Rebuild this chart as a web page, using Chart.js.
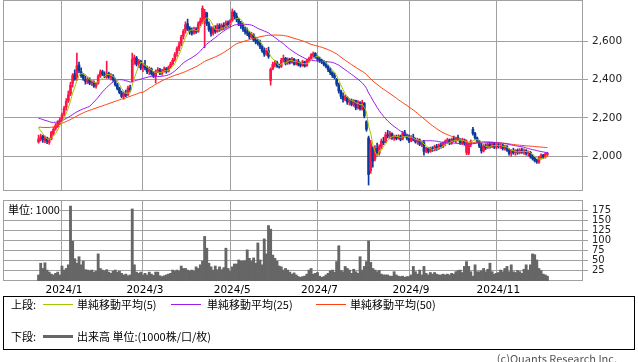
<!DOCTYPE html>
<html><head><meta charset="utf-8">
<script src="https://cdn.jsdelivr.net/npm/chart.js@4.4.1/dist/chart.umd.min.js"></script>
<style>
html,body{margin:0;padding:0;background:#fff;width:638px;height:362px;overflow:hidden;position:relative;}
canvas{position:absolute;left:0;}
#price{top:0;}
#vol{top:195px;}
.t{position:absolute;font-family:"Noto Sans CJK JP","Noto Sans",sans-serif;font-size:11px;line-height:14px;color:#000;white-space:nowrap;}
#box{position:absolute;left:3px;top:296px;width:630px;height:52px;border:1px solid #000;}
.ln{position:absolute;height:1px;width:30px;}
</style></head><body>
<canvas id="price" width="638" height="191"></canvas>
<canvas id="vol" width="638" height="102"></canvas>
<div class="t" style="left:4px;top:202px;background:#fff;padding:0 0 1px 4px;">単位: 1000</div>
<div id="box"></div>
<div class="t" style="left:11px;top:297px;">上段:</div>
<div class="ln" style="left:43px;top:304px;background:#a0c800;"></div>
<div class="t" style="left:77px;top:297px;">単純移動平均(5)</div>
<div class="ln" style="left:171px;top:304px;background:#9a1cf0;"></div>
<div class="t" style="left:207px;top:297px;">単純移動平均(25)</div>
<div class="ln" style="left:316px;top:304px;background:#ff4010;"></div>
<div class="t" style="left:350px;top:297px;">単純移動平均(50)</div>
<div class="t" style="left:11px;top:329px;">下段:</div>
<div class="ln" style="left:43px;top:335px;height:3px;background:#666;"></div>
<div class="t" style="left:77px;top:329px;">出来高 単位:(1000株/口/枚)</div>
<div class="t" style="right:21px;top:351px;color:#555;">(c)Quants Research Inc.</div>
<script>
// ---- data (one entry per trading day, index 0 = mid Dec 2023) ----
const monthIdx = [11, 49, 90, 131, 174, 215];
const monthLabels = ['2024/1', '2024/3', '2024/5', '2024/7', '2024/9', '2024/11'];
const priceTicks = [2000, 2200, 2400, 2600];
const volTicks = [25, 50, 75, 100, 125, 150, 175];

const opens = [
2075,2092,2105,2080,2095,2072,2090,2120,2145,2155,
2180,2195,2220,2255,2290,2325,2380,2430,2400,2475,
2440,2425,2400,2385,2400,2382,2385,2365,2380,2418,
2440,2425,2412,2430,2412,2418,2398,2372,2352,2330,
2312,2325,2320,2355,2390,2505,2512,2480,2495,2460,
2472,2458,2440,2455,2430,2415,2442,2450,2432,2445,
2455,2442,2465,2482,2505,2535,2562,2585,2625,2655,
2690,2665,2650,2640,2662,2650,2692,2700,2720,2745,
2690,2665,2640,2665,2650,2680,2660,2680,2672,2695,
2685,2708,2750,2730,2712,2690,2680,2660,2648,2640,
2620,2632,2605,2595,2590,2570,2550,2532,2550,2395,
2455,2480,2488,2470,2468,2502,2510,2485,2505,2490,
2505,2480,2495,2478,2472,2490,2472,2500,2508,2525,
2535,2518,2505,2498,2490,2478,2468,2450,2435,2420,
2400,2370,2340,2312,2295,2305,2282,2290,2268,2290,
2252,2280,2245,2275,2180,2095,1925,2045,1985,2040,
2015,2050,2078,2075,2112,2105,2118,2095,2100,2092,
2105,2090,2122,2108,2095,2080,2100,2088,2075,2085,
2062,2070,2028,2040,2025,2042,2032,2050,2040,2058,
2050,2068,2078,2085,2068,2090,2082,2098,2085,2070,
2085,2020,2015,2062,2140,2118,2095,2078,2050,2028,
2055,2045,2062,2050,2065,2048,2060,2050,2058,2040,
2050,2032,2015,2028,2018,2030,2020,2032,2022,2030,
2015,2020,1998,1990,1978,1968,1992,2005,1995,2010];
const highs = [
2110,2115,2110,2105,2100,2095,2130,2150,2170,2185,
2200,2225,2260,2300,2340,2385,2430,2450,2537,2490,
2460,2430,2418,2412,2408,2395,2392,2385,2425,2450,
2448,2440,2495,2438,2430,2425,2407,2380,2360,2340,
2335,2345,2365,2370,2537,2527,2520,2505,2500,2485,
2500,2470,2465,2460,2440,2450,2462,2458,2452,2465,
2462,2470,2490,2510,2540,2570,2595,2630,2660,2700,
2714,2675,2668,2672,2670,2700,2720,2783,2765,2750,
2700,2675,2675,2680,2690,2690,2690,2695,2705,2705,
2712,2767,2758,2745,2720,2702,2695,2672,2668,2650,
2645,2638,2620,2610,2605,2580,2565,2562,2568,2460,
2490,2500,2495,2480,2510,2527,2515,2512,2510,2515,
2510,2502,2505,2490,2500,2495,2505,2516,2535,2543,
2540,2522,2516,2505,2500,2490,2475,2459,2440,2433,
2405,2381,2344,2330,2320,2310,2300,2298,2295,2292,
2290,2285,2292,2280,2185,2105,2083,2050,2055,2068,
2060,2090,2099,2125,2135,2130,2122,2110,2110,2112,
2110,2130,2135,2115,2112,2108,2115,2095,2094,2090,
2078,2083,2047,2045,2048,2050,2058,2062,2065,2068,
2075,2085,2094,2090,2095,2105,2100,2110,2092,2094,
2090,2085,2068,2085,2151,2125,2100,2083,2070,2062,
2065,2070,2073,2072,2070,2068,2068,2066,2062,2058,
2055,2040,2035,2042,2035,2038,2040,2042,2038,2035,
2028,2025,2008,1995,1985,1998,2012,2010,2018,2021];
const lows = [
2068,2080,2072,2070,2065,2062,2085,2110,2135,2150,
2165,2185,2210,2240,2280,2315,2360,2395,2395,2435,
2410,2395,2375,2378,2372,2368,2358,2355,2375,2410,
2420,2408,2405,2405,2398,2390,2365,2345,2325,2305,
2297,2310,2315,2335,2386,2478,2470,2462,2450,2440,
2450,2430,2425,2422,2410,2381,2435,2425,2422,2438,
2432,2438,2458,2475,2495,2520,2550,2575,2610,2640,
2655,2635,2630,2635,2640,2645,2680,2690,2565,2680,
2650,2625,2630,2640,2645,2650,2655,2660,2665,2672,
2675,2700,2715,2700,2680,2665,2650,2635,2628,2612,
2615,2598,2585,2578,2560,2540,2520,2525,2510,2370,
2450,2465,2462,2458,2462,2490,2475,2478,2480,2485,
2474,2475,2470,2464,2468,2464,2468,2490,2505,2515,
2510,2495,2488,2482,2470,2460,2440,2425,2410,2402,
2365,2328,2300,2282,2288,2270,2266,2262,2260,2242,
2245,2240,2240,2200,2130,1850,1911,1943,1975,2000,
2005,2040,2060,2070,2095,2090,2088,2083,2085,2088,
2080,2085,2100,2085,2070,2075,2080,2068,2062,2055,
2050,2005,2018,2016,2020,2025,2028,2030,2035,2042,
2045,2055,2065,2060,2062,2075,2070,2080,2062,2060,
2057,2008,2008,2050,2110,2088,2070,2045,2016,2022,
2035,2040,2042,2045,2040,2038,2042,2040,2032,2032,
2025,2005,2000,2010,2005,2010,2012,2015,2010,2005,
2000,1990,1980,1970,1963,1963,1985,1988,1990,2000];
const closes = [
2090,2100,2085,2095,2078,2085,2125,2140,2160,2175,
2190,2215,2250,2285,2320,2370,2420,2400,2470,2445,
2420,2405,2390,2402,2380,2388,2365,2378,2415,2440,
2428,2418,2430,2412,2420,2398,2372,2352,2332,2312,
2325,2318,2355,2345,2505,2512,2480,2495,2460,2472,
2458,2440,2455,2430,2418,2442,2450,2432,2445,2455,
2440,2462,2480,2500,2530,2560,2580,2620,2650,2685,
2665,2650,2640,2662,2648,2690,2705,2770,2750,2690,
2660,2640,2665,2648,2680,2658,2682,2670,2695,2682,
2705,2752,2730,2712,2692,2680,2662,2648,2640,2622,
2635,2605,2595,2588,2570,2550,2532,2552,2520,2452,
2478,2488,2470,2465,2500,2510,2485,2505,2488,2505,
2480,2495,2478,2472,2492,2470,2498,2508,2528,2535,
2518,2505,2498,2490,2478,2468,2450,2435,2420,2410,
2375,2340,2312,2295,2310,2282,2290,2270,2288,2252,
2282,2248,2280,2210,2140,1905,2065,1975,2040,2015,
2050,2078,2070,2112,2105,2120,2095,2102,2092,2105,
2088,2120,2108,2095,2080,2100,2088,2075,2085,2062,
2070,2025,2040,2025,2042,2032,2050,2040,2058,2050,
2068,2078,2085,2068,2088,2082,2095,2085,2070,2085,
2065,2078,2060,2078,2118,2095,2078,2052,2028,2055,
2045,2062,2050,2065,2048,2060,2050,2058,2040,2050,
2032,2015,2028,2018,2030,2020,2032,2022,2030,2015,
2022,1998,1988,1978,1970,1992,2005,1995,2012,2015];
const volume = [
15,44,31,45,27,22,17,15,19,22,
15,37,27,31,40,185,98,55,44,60,
40,49,28,27,25,27,22,24,67,31,
27,25,28,22,19,24,27,22,24,19,
15,17,13,15,178,40,22,19,22,15,
19,15,22,17,14,22,22,13,11,13,
15,17,19,27,24,27,24,37,31,31,
27,24,27,24,35,31,40,49,110,81,
44,35,27,37,28,35,28,33,81,31,
24,35,42,42,52,49,49,50,77,56,
49,57,44,94,52,40,104,67,137,128,
64,56,49,37,35,27,31,27,22,17,
20,15,11,9,11,12,17,27,31,17,
19,21,12,9,11,15,19,25,27,22,
48,87,26,23,36,31,27,19,29,23,
19,60,27,36,48,99,46,31,27,23,
26,17,15,15,15,12,12,23,15,12,
11,12,9,11,11,15,36,23,17,27,
15,36,19,15,21,17,21,17,15,15,
17,15,17,15,19,17,23,26,27,21,
36,48,36,23,12,40,23,23,25,31,
23,29,44,23,17,19,21,27,23,31,
36,23,40,23,21,26,23,19,29,40,
27,40,67,65,52,31,26,17,15,12];
// moving-average values before enough history exists in this window
const ma5Early = [2148, 2132, 2118, 2105];
const ma25Early = [2198,2195,2191,2187,2184,2180,2177,2176,2177,2179,2182,2186,2191,2197,2203,2210,2217,2224,2231,2237,2242,2247,2251,2255];
const ma50Early = [2151,2151,2150,2150,2150,2150,2151,2153,2157,2162,2167,2172,2176,2181,2186,2191,2197,2203,2209,2215,2221,2226,2231,2235,2239,2243,2247,2251,2255,2259,2262,2266,2270,2274,2278,2282,2286,2290,2294,2298,2300,2304,2308,2312,2316,2320,2324,2328,2332];

// ---- styles ----
const RED = '#ff1448', BLUE = '#0a3a9a', GRID = '#a0a0a0';
const C5 = '#a0c800', C25 = '#9a1cf0', C50 = '#ff4010';
const xMin = -16.7, xMax = 255.7;

function sma(n, early) {
  return closes.map((c, i) => {
    if (i < n - 1) return early[i];
    let s = 0; for (let k = i - n + 1; k <= i; k++) s += closes[k];
    return s / n;
  });
}
const ma5 = sma(5, ma5Early), ma25 = sma(25, ma25Early), ma50 = sma(50, ma50Early);
const candleColors = closes.map((c, i) => c >= opens[i] ? RED : BLUE);

Chart.defaults.font.family = '"DejaVu Sans", sans-serif';
const frame = {
  id: 'frame',
  beforeDatasetsDraw(chart) {
    const { ctx, chartArea: a } = chart;
    ctx.save();
    ctx.strokeStyle = GRID; ctx.lineWidth = 1;
    const l = Math.round(a.left), t = Math.round(a.top), r = Math.round(a.right), b = Math.round(a.bottom);
    ctx.strokeRect(l + 0.5, t + 0.5, r - l - 1, b - t - 1);
    ctx.restore();
  }
};
const noPad = s => { s.paddingTop = 0; s.paddingBottom = 0; s.paddingLeft = 0; s.paddingRight = 0; };
const xy = arr => arr.map((v, i) => ({ x: i, y: v }));
const monthAxis = (showLabels, h) => ({
  type: 'linear', min: xMin, max: xMax, offset: false,
  grid: { color: GRID, drawTicks: false, offset: false },
  border: { display: false },
  ticks: { display: showLabels, autoSkip: false, maxRotation: 0, padding: 3, color: '#000',
           font: { size: 10.5 }, labelOffset: 2, callback: (v, i) => monthLabels[i] },
  afterBuildTicks: s => { s.ticks = monthIdx.map(v => ({ value: v })); },
  afterFit: s => { noPad(s); s.height = h; }
});
const rightAxis = (min, max, ticks, size, fmt) => ({
  position: 'right', min, max,
  grid: { color: GRID, tickLength: 5 }, border: { display: false },
  ticks: { padding: 4, color: '#222', autoSkip: false, font: { size }, callback: fmt },
  afterBuildTicks: s => { s.ticks = ticks.map(v => ({ value: v })); },
  afterFit: s => { noPad(s); s.width = 55; }
});

new Chart(document.getElementById('price'), {
  type: 'bar',
  data: { datasets: [
    { type: 'line', data: xy(ma5), borderColor: C5, borderWidth: 1, pointRadius: 0, order: 0 },
    { type: 'line', data: xy(ma25), borderColor: C25, borderWidth: 1, pointRadius: 0, order: 1 },
    { type: 'line', data: xy(ma50), borderColor: C50, borderWidth: 1, pointRadius: 0, order: 2 },
    { type: 'bar', data: lows.map((l, i) => ({ x: i, y: [l, highs[i]] })), backgroundColor: candleColors,
      barThickness: 1, grouped: false, order: 4 },
    { type: 'bar', data: opens.map((o, i) => ({ x: i, y: [Math.min(o, closes[i]), Math.max(o, closes[i])] })),
      backgroundColor: candleColors, barThickness: 2, minBarLength: 1, grouped: false, order: 3 }
  ]},
  options: {
    responsive: false, animation: false, events: [],
    layout: { padding: { left: 3, right: 0, top: 0, bottom: 0 } },
    plugins: { legend: { display: false }, tooltip: { enabled: false } },
    scales: {
      x: monthAxis(false, 0),
      y: rightAxis(1819, 2813.5, priceTicks, 10.5, v => v.toLocaleString('en-US'))
    }
  },
  plugins: [frame]
});

new Chart(document.getElementById('vol'), {
  type: 'bar',
  data: { datasets: [
    { data: xy(volume), backgroundColor: '#666666', barThickness: 2.2, borderWidth: 0 }
  ]},
  options: {
    responsive: false, animation: false, events: [],
    layout: { padding: { left: 3, right: 0, top: 5, bottom: 0 } },
    plugins: { legend: { display: false }, tooltip: { enabled: false } },
    scales: {
      x: monthAxis(true, 16),
      y: rightAxis(0, 200, volTicks, 10, v => String(v))
    }
  },
  plugins: [frame]
});
</script>
</body></html>
